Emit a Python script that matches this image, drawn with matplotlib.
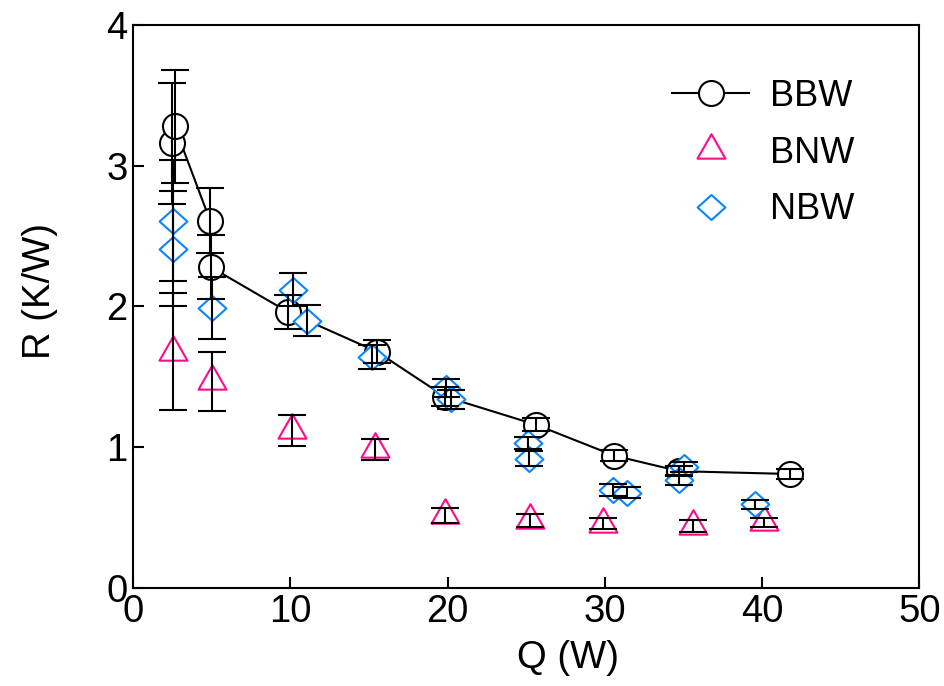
import matplotlib
matplotlib.use("Agg")
import matplotlib.pyplot as plt
from matplotlib.path import Path
import numpy as np

plt.rcParams['font.family'] = ['Liberation Sans', 'DejaVu Sans']

# ---- data ----
Q_bbw = [2.45, 2.65, 4.90, 4.95, 9.87, 15.49, 19.83, 25.62, 30.60, 34.73, 41.77]
R_bbw = [3.16, 3.28, 2.61, 2.28, 1.96, 1.68, 1.36, 1.16, 0.94, 0.83, 0.81]
E_bbw = [0.43, 0.40, 0.23, 0.23, 0.12, 0.08, 0.066, 0.045, 0.039, 0.035, 0.033]

Q_bnw = [2.56, 5.04, 10.13, 15.41, 19.86, 25.26, 29.86, 35.62, 40.11]
R_bnw = [1.68, 1.47, 1.12, 0.985, 0.516, 0.481, 0.457, 0.442, 0.467]
E_bnw = [0.415, 0.21, 0.11, 0.075, 0.055, 0.045, 0.04, 0.042, 0.031]

Q_nbw = [2.56, 2.56, 5.04, 10.19, 11.04, 15.22, 19.88, 20.20, 25.09, 25.15,
         30.53, 31.42, 35.03, 34.73, 39.54]
R_nbw = [2.61, 2.41, 1.99, 2.12, 1.90, 1.64, 1.42, 1.34, 1.03, 0.92,
         0.696, 0.677, 0.858, 0.767, 0.595]
E_nbw = [0.43, 0.41, 0.22, 0.12, 0.11, 0.083, 0.066, 0.065, 0.04, 0.05,
         0.04, 0.04, 0.035, 0.035, 0.033]

x_ticks = [0, 10, 20, 30, 40, 50]
y_ticks = [0, 1, 2, 3, 4]

PINK = '#FF0A8C'
BLUE = '#0A84FF'

# custom markers: triangle centred on centroid, diamond
h = 0.875
tri = Path([(0, 2 * h / 3), (-0.5, -h / 3), (0.5, -h / 3), (0, 2 * h / 3)],
           [Path.MOVETO, Path.LINETO, Path.LINETO, Path.CLOSEPOLY])
dia = Path([(0, 0.9), (1, 0), (0, -0.9), (-1, 0), (0, 0.9)],
           [Path.MOVETO, Path.LINETO, Path.LINETO, Path.LINETO, Path.CLOSEPOLY])

fig = plt.figure(figsize=(9.45, 6.86), dpi=100)
ax = fig.add_axes([133 / 945, 1 - 588 / 686, (919.5 - 133) / 945, (588 - 25) / 686])

h1, = ax.plot(Q_bbw, R_bbw, '-', color='black', lw=1.5, marker='o', ms=18,
              mfc='white', mec='black', mew=1.5, zorder=2, label='BBW')
h2, = ax.plot(Q_bnw, R_bnw, linestyle='none', marker=tri, ms=23.5,
              mfc='white', mec=PINK, mew=1.5, zorder=3, label='BNW')
h3, = ax.plot(Q_nbw, R_nbw, linestyle='none', marker=dia, ms=20,
              mfc='white', mec=BLUE, mew=1.5, zorder=4, label='NBW')

for q, r, e in [(Q_bbw, R_bbw, E_bbw), (Q_bnw, R_bnw, E_bnw), (Q_nbw, R_nbw, E_nbw)]:
    ax.errorbar(q, r, yerr=e, fmt='none', ecolor='black', elinewidth=1.5,
                capsize=10, capthick=1.5, zorder=5)

ax.set_xlim(0, 50)
ax.set_ylim(0, 4)
ax.set_xticks(x_ticks)
ax.set_yticks(y_ticks)
ax.tick_params(direction='in', length=8, width=1.5, labelsize=27.5,
               top=False, right=False)
ax.tick_params(axis='x', pad=4.5)
ax.tick_params(axis='y', pad=4)
for s in ax.spines.values():
    s.set_linewidth(1.5)

ax.set_xlabel('Q (W)', fontsize=27.5)
ax.set_ylabel('R (K/W)', fontsize=27.5)
ax.xaxis.set_label_coords(0.553, -0.092)
ax.yaxis.set_label_coords(-0.095, 0.527)

leg = ax.legend(handles=[h1, h2, h3], loc='upper left',
                bbox_to_anchor=((671.7 - 133) / 786.5, 1 - (78.7 - 25) / 563),
                frameon=False, fontsize=26, borderpad=0, borderaxespad=0,
                handlelength=2.15, handletextpad=0.57, labelspacing=0.605,
                numpoints=1)

fig.savefig('out.png', dpi=100)
